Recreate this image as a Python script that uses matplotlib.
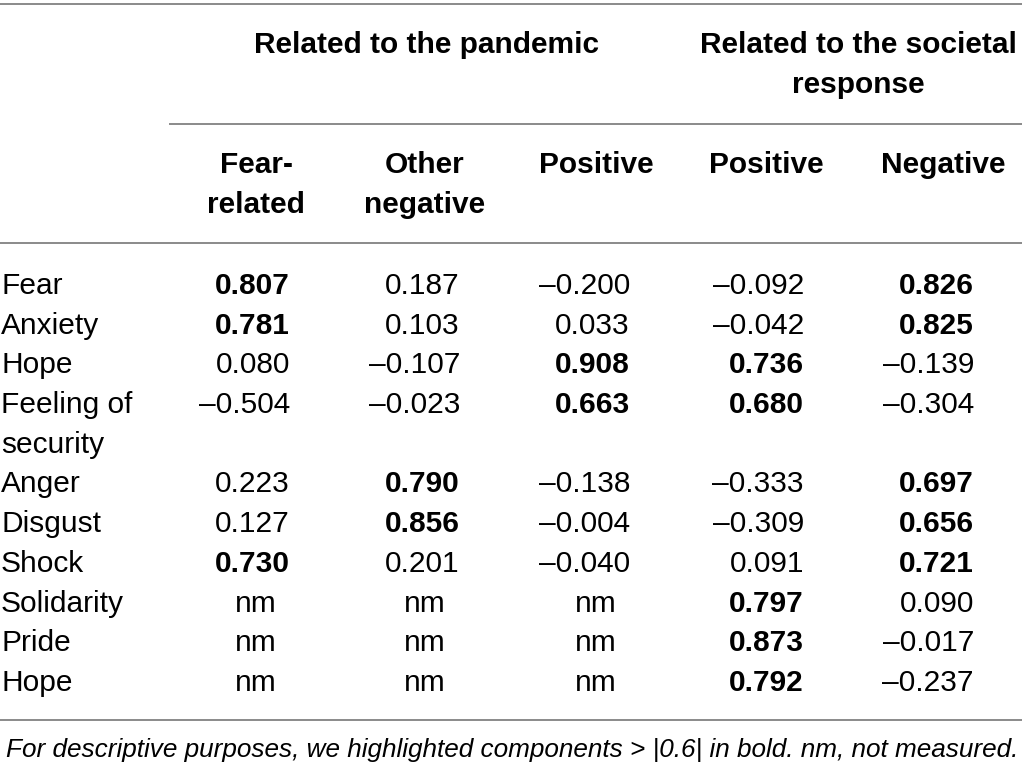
import matplotlib
matplotlib.use("Agg")
import matplotlib.pyplot as plt

plt.rcParams['font.family'] = ['Liberation Sans', 'DejaVu Sans']

group_headers = ["Related to the pandemic", "Related to the societal\nresponse"]
col_headers = ["Fear-\nrelated", "Other\nnegative", "Positive", "Positive", "Negative"]
row_labels = ["Fear", "Anxiety", "Hope", "Feeling of\nsecurity", "Anger", "Disgust",
              "Shock", "Solidarity", "Pride", "Hope"]
fear_related = [0.807, 0.781, 0.080, -0.504, 0.223, 0.127, 0.730, None, None, None]
other_negative = [0.187, 0.103, -0.107, -0.023, 0.790, 0.856, 0.201, None, None, None]
pand_positive = [-0.200, 0.033, 0.908, 0.663, -0.138, -0.004, -0.040, None, None, None]
soc_positive = [-0.092, -0.042, 0.736, 0.680, -0.333, -0.309, 0.091, 0.797, 0.873, 0.792]
soc_negative = [0.826, 0.825, -0.139, -0.304, 0.697, 0.656, 0.721, 0.090, -0.017, -0.237]
footnote = "For descriptive purposes, we highlighted components > |0.6| in bold. nm, not measured."

columns = [fear_related, other_negative, pand_positive, soc_positive, soc_negative]

W, H = 1022, 773
fig = plt.figure(figsize=(W / 100, H / 100), dpi=100)
ax = fig.add_axes([0, 0, 1, 1])
ax.set_xlim(0, W)
ax.set_ylim(H, 0)
ax.axis('off')

fs = 21.5
pitch = 39.7
line_kw = dict(color='#8a8a8a', lw=1.4)

# rules
ax.plot([0, W], [4, 4], **line_kw)
ax.plot([170, W], [124, 124], **line_kw)
ax.plot([0, W], [243, 243], **line_kw)
ax.plot([0, W], [720, 720], **line_kw)


def multiline(x, y, txt, ha, **kw):
    for k, part in enumerate(txt.split('\n')):
        ax.text(x, y + k * pitch, part, ha=ha, va='center', fontsize=fs, **kw)


# group headers
multiline(426, 45, group_headers[0], 'center', fontweight='bold')
multiline(858, 45, group_headers[1], 'center', fontweight='bold')

# column headers
col_centers = [256, 425, 596, 766, 943]
col_right = [290, 460, 630, 804, 974]
for c, h in zip(col_centers, col_headers):
    multiline(c, 165, h, 'center', fontweight='bold')

# body
y0 = 286
slot = 0
for i, lab in enumerate(row_labels):
    y = y0 + slot * pitch
    multiline(1, y, lab, 'left')
    for j, col in enumerate(columns):
        v = col[i]
        if v is None:
            ax.text(col_centers[j], y, "nm", ha='center', va='center', fontsize=fs)
        else:
            s = ("\u2013" if v < 0 else "") + f"{abs(v):.3f}"
            ax.text(col_right[j], y, s, ha='right', va='center', fontsize=fs,
                    fontweight='bold' if abs(v) > 0.6 else 'normal')
    slot += lab.count('\n') + 1

ax.text(W / 2 + 1, 750, footnote, ha='center', va='center', fontsize=18.8, style='italic')

fig.savefig("out.png", dpi=100)
